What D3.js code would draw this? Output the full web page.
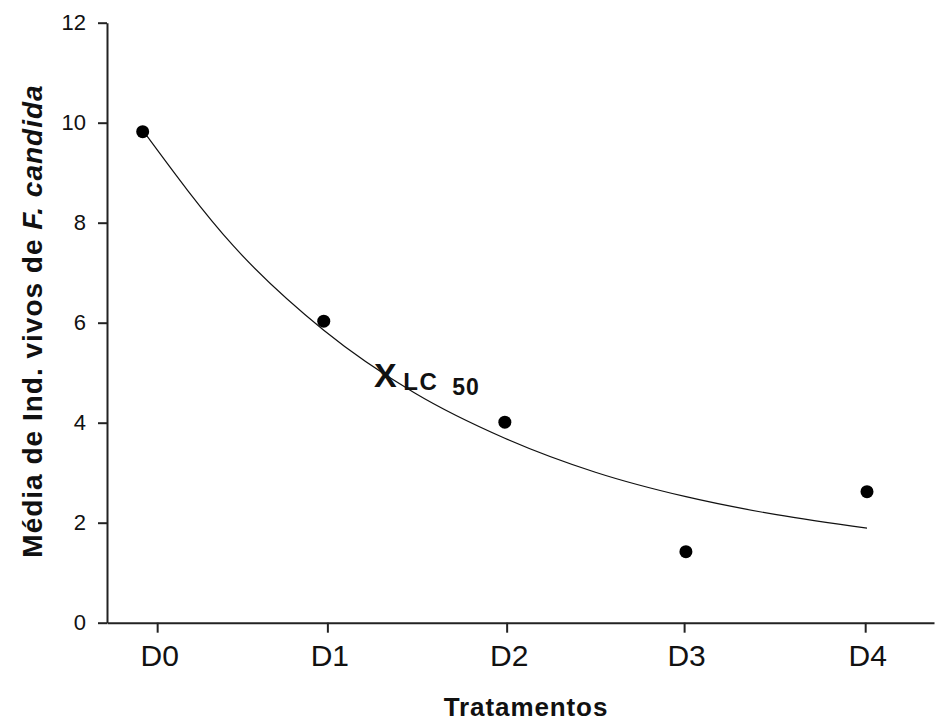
<!DOCTYPE html>
<html>
<head>
<meta charset="utf-8">
<script src="https://cdn.jsdelivr.net/npm/d3@7"></script>
<style>
  html, body { margin: 0; padding: 0; background: #fff; }
  svg { display: block; font-family: "Liberation Sans", Arial, sans-serif; }
</style>
</head>
<body>
<svg id="chart" width="935" height="722"></svg>
<script>
// Treatments and mean number of live F. candida individuals
const treatments = ["D0", "D1", "D2", "D3", "D4"];
const doseX = [0, 1, 2, 3, 4];
const meanAlive = [9.82, 6.03, 4.01, 1.42, 2.62];

// Positions of the category ticks along the numeric x axis
const tickPositions = [0.08, 1.02, 2.01, 2.99, 3.99];

// Fitted decay curve, sampled along x
const fitX = [0, 0.5, 1, 1.5, 2, 2.5, 3, 3.5, 4];
const fitY = [9.85, 7.54, 5.85, 4.60, 3.69, 3.01, 2.52, 2.16, 1.89];

// LC50 marker location
const lc50X = 1.34;
const lc50Y = 4.95;

const yTicks = [0, 2, 4, 6, 8, 10, 12];

const svg = d3.select("#chart");

const x = d3.scaleLinear().domain([-0.197, 4.37]).range([107, 934]);
const y = d3.scaleLinear().domain([0, 12]).range([622.7, 22.7]);

// Axes
const yAxis = svg.append("g")
  .attr("transform", `translate(${x.range()[0]},0)`)
  .call(d3.axisLeft(y).tickValues(yTicks).tickSize(9).tickSizeOuter(0).tickPadding(12));
yAxis.select(".domain").attr("stroke", "#222").attr("stroke-width", 2);
yAxis.selectAll(".tick line").attr("stroke", "#222").attr("stroke-width", 2);
yAxis.selectAll(".tick text")
  .attr("font-size", 22).attr("fill", "#111")
  .attr("font-family", "Liberation Sans, Arial, sans-serif");

const xAxis = svg.append("g")
  .attr("transform", `translate(0,${y(0)})`)
  .call(d3.axisBottom(x).tickValues(tickPositions)
    .tickFormat((d, i) => treatments[i]).tickSize(10).tickSizeOuter(0).tickPadding(12));
xAxis.select(".domain").attr("stroke", "#222").attr("stroke-width", 2);
xAxis.selectAll(".tick line").attr("stroke", "#222").attr("stroke-width", 2);
xAxis.selectAll(".tick text")
  .attr("font-size", 30).attr("fill", "#111").attr("dx", 2)
  .attr("font-family", "Liberation Sans, Arial, sans-serif");

// Fitted curve
const line = d3.line().x(d => x(d[0])).y(d => y(d[1])).curve(d3.curveMonotoneX);
svg.append("path")
  .datum(fitX.map((v, i) => [v, fitY[i]]))
  .attr("d", line)
  .attr("fill", "none")
  .attr("stroke", "#111")
  .attr("stroke-width", 1.2);

// Observed means
svg.append("g").selectAll("circle")
  .data(meanAlive)
  .join("circle")
  .attr("cx", (d, i) => x(doseX[i]))
  .attr("cy", d => y(d))
  .attr("r", 6.5)
  .attr("fill", "#000");

// LC50 marker
svg.append("text")
  .attr("x", x(lc50X))
  .attr("y", y(lc50Y) + 12)
  .attr("text-anchor", "middle")
  .attr("font-weight", "bold")
  .attr("fill", "#111")
  .attr("font-size", 34)
  .text("X");
svg.append("text")
  .attr("x", x(lc50X) + 18)
  .attr("y", y(lc50Y) + 15)
  .attr("font-weight", "bold")
  .attr("fill", "#111")
  .attr("font-size", 24)
  .attr("letter-spacing", 1.5)
  .text("LC");
svg.append("text")
  .attr("x", x(lc50X) + 67)
  .attr("y", y(lc50Y) + 20)
  .attr("font-weight", "bold")
  .attr("fill", "#111")
  .attr("font-size", 23)
  .attr("letter-spacing", 1)
  .text("50");

// Axis titles
svg.append("text")
  .attr("x", 526)
  .attr("y", 716)
  .attr("text-anchor", "middle")
  .attr("font-weight", "bold")
  .attr("font-size", 26)
  .attr("letter-spacing", 0.9)
  .attr("fill", "#111")
  .text("Tratamentos");

const yTitle = svg.append("text")
  .attr("transform", "translate(42,321) rotate(-90)")
  .attr("text-anchor", "middle")
  .attr("font-weight", "bold")
  .attr("font-size", 28)
  .attr("letter-spacing", 1)
  .attr("fill", "#111");
yTitle.append("tspan").text("Média de Ind. vivos de ");
yTitle.append("tspan").attr("font-style", "italic").text("F. candida");
</script>
</body>
</html>
